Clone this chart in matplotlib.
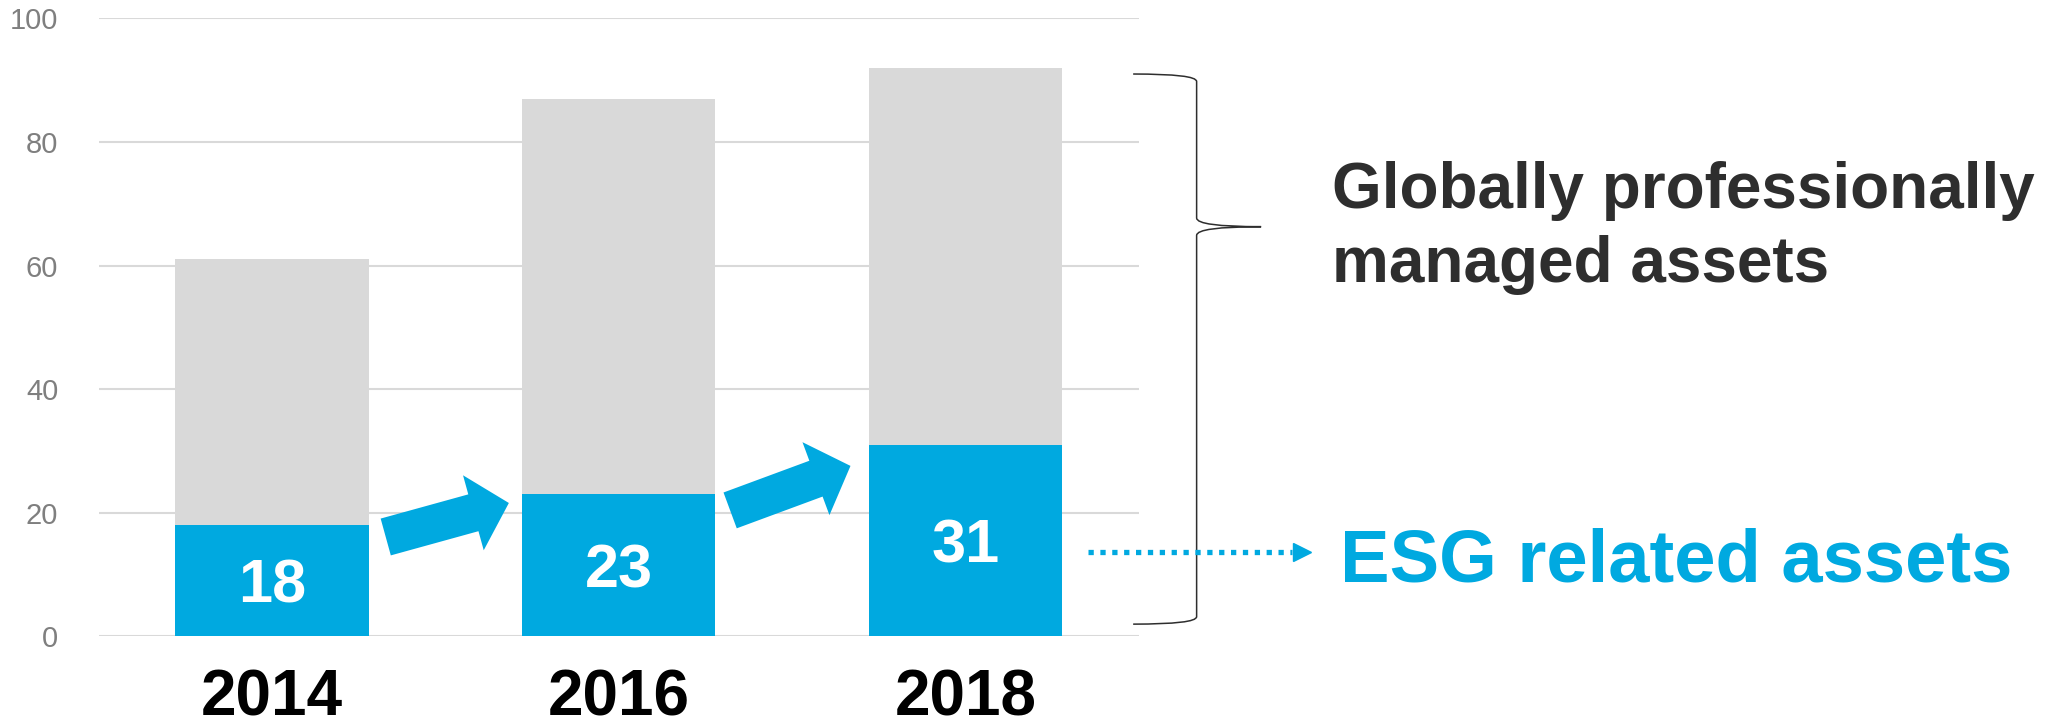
import numpy as np
import matplotlib
matplotlib.use("Agg")
import matplotlib.pyplot as plt
from matplotlib.path import Path
from matplotlib.patches import PathPatch
from matplotlib.lines import Line2D

plt.rcParams["font.family"] = ["Liberation Sans", "DejaVu Sans"]

# Chart data
years = ["2014", "2016", "2018"]
total_assets = [61, 87, 92]
esg_assets = [18, 23, 31]

BLUE = "#00A9E0"
GRAY = "#D9D9D9"
DARK = "#2E2E2E"

fig = plt.figure(figsize=(20.62, 7.21), dpi=100)
ax = fig.add_axes([0.0478, 0.1172, 0.5046, 0.8573])

x = np.arange(len(years))
bar_w = 0.557
ax.bar(x, total_assets, width=bar_w, color=GRAY, zorder=2)
ax.bar(x, esg_assets, width=bar_w, color=BLUE, zorder=3)

# White value labels in the middle of the blue bars
for xi, v in zip(x, esg_assets):
    ax.annotate(str(v), (xi, v / 2), xytext=(0, -15.8), textcoords="offset points",
                ha="center", va="baseline", color="white", fontsize=44,
                fontweight="bold", zorder=4)

ax.set_xlim(-0.5, 2.5)
ax.set_ylim(0, 100)
ax.set_yticks(range(0, 101, 20))
ax.set_xticks(x, years, fontsize=46, fontweight="bold", color="black")
ax.tick_params(axis="x", length=0, pad=23)
ax.tick_params(axis="y", length=0, pad=29, labelsize=21, labelcolor="#7F7F7F")
ax.grid(axis="y", color=GRAY, linewidth=1.5, zorder=0)
for sp in ax.spines.values():
    sp.set_visible(False)

# Fat arrows showing the growth of ESG assets
trend_arrows = [((0.328, 16.1), (0.683, 21.6)), ((1.321, 20.4), (1.668, 27.6))]
for tail, tip in trend_arrows:
    ax.annotate("", xy=tip, xytext=tail,
                arrowprops=dict(arrowstyle="simple,head_length=0.53,head_width=1.12,tail_width=0.55",
                                mutation_scale=50, color=BLUE, shrinkA=0, shrinkB=0, lw=0),
                zorder=5, annotation_clip=False)

# Curly brace to the right of the bars
xl, xm, xt = 2.483, 2.666, 2.852
top, mid, bot = 91.0, 66.3, 2.0
d, dm = 1.2, 1.4
verts = [(xl, top), (xm, top), (xm, top - d),
         (xm, mid + dm),
         (xm, mid), (xt, mid),
         (xm, mid), (xm, mid - dm),
         (xm, bot + d),
         (xm, bot), (xl, bot)]
codes = [Path.MOVETO, Path.CURVE3, Path.CURVE3,
         Path.LINETO,
         Path.CURVE3, Path.CURVE3,
         Path.CURVE3, Path.CURVE3,
         Path.LINETO,
         Path.CURVE3, Path.CURVE3]
ax.add_patch(PathPatch(Path(verts, codes), facecolor="none", edgecolor=DARK,
                       lw=1.1, clip_on=False, zorder=5))

# Right-hand labels
fig.text(0.646, 0.777, "Globally professionally\nmanaged assets", ha="left", va="top",
         fontsize=46, fontweight="bold", color=DARK, linespacing=1.3)
fig.text(0.650, 0.1935, "ESG related assets", ha="left", va="baseline",
         fontsize=53.5, fontweight="bold", color=BLUE)

# Dotted pointer to the ESG label
y_ptr = 0.2344
fig.add_artist(Line2D([0.5277, 0.6266], [y_ptr, y_ptr], transform=fig.transFigure,
                      color=BLUE, lw=3.8, linestyle=(0, (1, 1.25)), dash_capstyle="butt"))
fig.add_artist(Line2D([0.6312], [y_ptr], transform=fig.transFigure, marker=">",
                      markersize=13, color=BLUE, lw=0))

fig.savefig("out.png", dpi=100)
